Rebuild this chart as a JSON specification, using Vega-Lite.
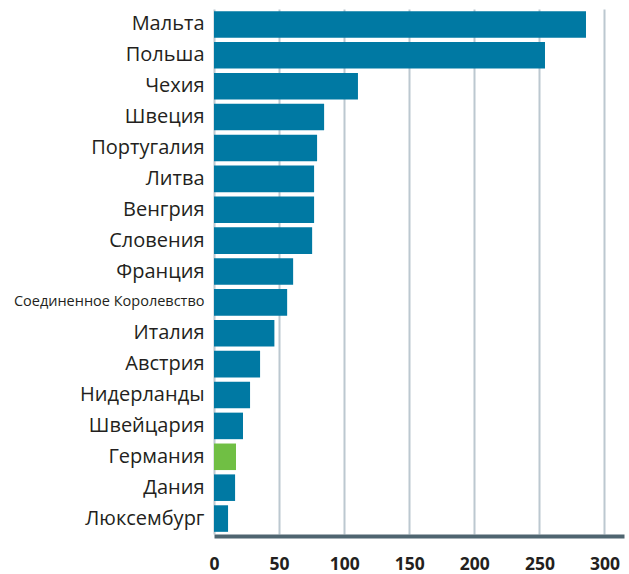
{
  "$schema": "https://vega.github.io/schema/vega-lite/v6.json",
  "width": 410,
  "height": 525,
  "autosize": "none",
  "padding": {"left": 214, "top": 9, "right": 5, "bottom": 40},
  "background": "white",
  "data": {
    "values": [
      {"country": "Мальта", "value": 285.8},
      {"country": "Польша", "value": 254.3},
      {"country": "Чехия", "value": 110.6},
      {"country": "Швеция", "value": 84.6},
      {"country": "Португалия", "value": 79.2},
      {"country": "Литва", "value": 76.9},
      {"country": "Венгрия", "value": 76.9},
      {"country": "Словения", "value": 75.4},
      {"country": "Франция", "value": 60.8},
      {"country": "Соединенное Королевство", "value": 56.2},
      {"country": "Италия", "value": 46.4},
      {"country": "Австрия", "value": 35.4},
      {"country": "Нидерланды", "value": 27.7},
      {"country": "Швейцария", "value": 22.3},
      {"country": "Германия", "value": 16.9},
      {"country": "Дания", "value": 16.2},
      {"country": "Люксембург", "value": 10.8}
    ]
  },
  "config": {
    "view": {"stroke": null},
    "font": "Open Sans"
  },
  "mark": {"type": "bar"},
  "encoding": {
    "y": {
      "field": "country",
      "type": "nominal",
      "sort": null,
      "scale": {"paddingInner": 0.14, "paddingOuter": 0.07},
      "axis": {
        "title": null,
        "domain": false,
        "ticks": false,
        "grid": false,
        "labelPadding": 10,
        "labelFont": "Open Sans",
        "labelFontSize": {"condition": {"test": "datum.value === 'Соединенное Королевство'", "value": 14.5}, "value": 20},
        "labelColor": "#231f20",
        "labelLimit": 300
      }
    },
    "x": {
      "field": "value",
      "type": "quantitative",
      "scale": {"domain": [0, 315], "nice": false},
      "axis": {
        "title": null,
        "values": [0, 50, 100, 150, 200, 250, 300],
        "grid": true,
        "gridColor": "#bcc8d0",
        "gridWidth": 2,
        "ticks": false,
        "domain": true,
        "domainColor": "#4f6570",
        "domainWidth": 4,
        "offset": 2,
        "labelFontSize": 17.5,
        "labelFontWeight": "bold",
        "labelColor": "#231f20",
        "labelPadding": 19,
        "labelFlush": false
      }
    },
    "color": {
      "condition": {"test": "datum.country === 'Германия'", "value": "#70bf44"},
      "value": "#0079a3"
    }
  }
}
